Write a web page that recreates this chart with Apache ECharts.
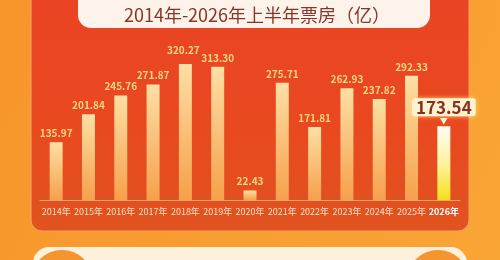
<!DOCTYPE html>
<html>
<head>
<meta charset="utf-8">
<script src="https://cdn.jsdelivr.net/npm/echarts@6/dist/echarts.min.js"></script>
<style>
html,body{margin:0;padding:0;background:#f99a2c;}
#c{width:500px;height:260px;}
</style>
</head>
<body>
<div id="c"></div>
<script>
var titleText = '2014年-2026年上半年票房（亿）';
var years = ['2014年','2015年','2016年','2017年','2018年','2019年','2020年','2021年','2022年','2023年','2024年','2025年','2026年'];
var boxOffice = [135.97, 201.84, 245.76, 271.87, 320.27, 313.30, 22.43, 275.71, 171.81, 262.93, 237.82, 292.33, 173.54];
var highlightIndex = 12;
var raisedLabelIndex = 4;

var font = '"Noto Sans CJK SC", "Noto Sans", sans-serif';
var chart = echarts.init(document.getElementById('c'), null, {renderer: 'canvas'});

var barData = boxOffice.map(function (v, i) {
  if (i === highlightIndex) {
    return {
      value: v,
      itemStyle: {
        color: new echarts.graphic.LinearGradient(0, 0, 0, 1, [
          {offset: 0, color: '#fffdf4'},
          {offset: 0.5, color: '#fdf3a0'},
          {offset: 1, color: '#f6e01c'}
        ])
      },
      label: {
        show: true,
        position: 'top',
        distance: 2,
        formatter: function (p) { return '{box|' + p.value.toFixed(2) + '}\n{arr|▼}'; },
        rich: {
          box: {
            fontSize: 17, fontWeight: 'bold', color: '#8a2e1c', fontFamily: font,
            backgroundColor: '#fdf2d2', borderRadius: 3, padding: [1, 4, 0, 4],
            shadowColor: 'rgba(255,230,120,0.9)', shadowBlur: 4, lineHeight: 20
          },
          arr: { fontSize: 8, color: '#fdf2d2', lineHeight: 7, align: 'center' }
        }
      }
    };
  }
  if (i === raisedLabelIndex) {
    return { value: v, label: { offset: [-2, -5] } };
  }
  return v;
});

var option = {
  animation: false,
  graphic: [
    { type: 'rect', z: -20, silent: true, shape: {x: 0, y: 0, width: 500, height: 260},
      style: { fill: new echarts.graphic.LinearGradient(0, 0, 1, 1, [
        {offset: 0, color: '#f8952a'}, {offset: 1, color: '#f9a535'}]) } },
    { type: 'rect', z: -15, silent: true, shape: {x: 31, y: -20, width: 438, height: 251, r: 11},
      style: { fill: new echarts.graphic.LinearGradient(0, 0, 0, 1, [
        {offset: 0, color: '#ea4325'}, {offset: 0.6, color: '#e9491f'}, {offset: 1, color: '#e0531f'}]),
        stroke: '#f6a467', lineWidth: 1 } },
    { type: 'rect', z: -10, silent: true, shape: {x: 78, y: -20, width: 352, height: 48, r: 13},
      style: { fill: '#fdf3ea' } },
    { type: 'rect', z: -10, silent: true, shape: {x: 33, y: 247, width: 434, height: 60, r: 16},
      style: { fill: '#fdf1dc' } },
    { type: 'circle', z: -9, silent: true, shape: {cx: 62, cy: 281, r: 31},
      style: { fill: '#f59530' } },
    { type: 'circle', z: -9, silent: true, shape: {cx: 438, cy: 281, r: 31},
      style: { fill: '#f59530' } }
  ],
  title: {
    text: titleText,
    left: 252, top: 1, textAlign: 'center',
    textStyle: { fontSize: 18, fontWeight: 'normal', color: '#863528', fontFamily: font }
  },
  grid: { left: 40, right: 40, top: 30, bottom: 60 },
  xAxis: {
    type: 'category',
    data: years,
    axisTick: { show: false },
    axisLine: { show: true, lineStyle: { color: 'rgba(253,200,140,0.7)', width: 1 } },
    axisLabel: {
      interval: 0, margin: 7, fontSize: 9, color: '#fde0c4', fontFamily: font,
      formatter: function (v, i) { return i === highlightIndex ? '{b|' + v + '}' : v; },
      rich: { b: { fontSize: 9, fontWeight: 'bold', color: '#ffffff', fontFamily: font } }
    }
  },
  yAxis: {
    type: 'value', min: 0, max: 400, show: false,
    splitLine: { show: false }
  },
  series: [{
    type: 'bar',
    data: barData,
    barWidth: 13,
    itemStyle: {
      color: new echarts.graphic.LinearGradient(0, 0, 0, 1, [
        {offset: 0, color: '#fddfa4'},
        {offset: 1, color: '#f6a04c'}
      ])
    },
    label: {
      show: true, position: 'top', distance: 4,
      fontSize: 10, fontWeight: 'bold', color: '#fbd684', fontFamily: font,
      formatter: function (p) { return p.value.toFixed(2); }
    }
  }]
};
chart.setOption(option);
</script>
</body>
</html>
